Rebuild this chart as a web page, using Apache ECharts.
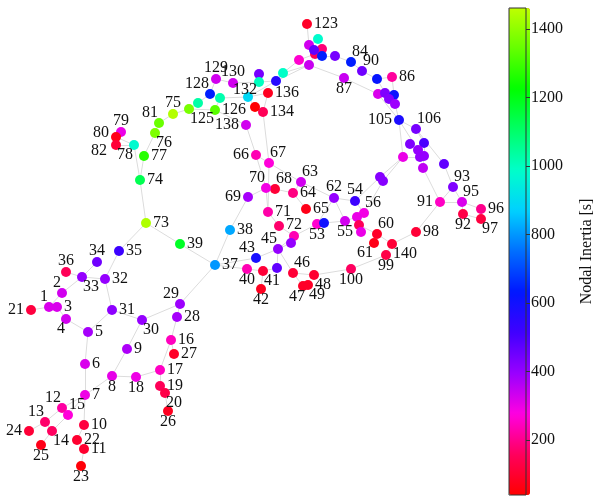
<!DOCTYPE html>
<html>
<head>
<meta charset="utf-8">
<script src="https://cdn.jsdelivr.net/npm/echarts@6/dist/echarts.min.js"></script>
<style>
  html, body { margin: 0; padding: 0; background: #fff; }
  #chart { width: 596px; height: 500px; }
</style>
</head>
<body>
<div id="chart"></div>
<script>
// node names ("u.." = unlabeled bus), layout position and nodal inertia [s]
const nodeNames = [
  '1','2','3','4','5','6','7','8','9','10',
  '11','12','13','14','15','16','17','18','19','20',
  '21','22','23','24','25','26','27','28','29','30',
  '31','32','33','34','35','36','37','38','39','40',
  '41','42','43','45','46','47','48','49','53','54',
  '55','56','60','61','62','63','64','65','66','67',
  '68','69','70','71','72','73','74','75','76','77',
  '78','79','80','81','82','84','86','87','90','91',
  '92','93','95','96','97','98','99','100','105','106',
  '123','125','126','128','129','130','132','134','136','138',
  '140',
  'u1','u2','u3','u4','u5','u6','u7','u8','u9','u10',
  'u11','u12','u13','u14','u15','u16','u17','u18','u19','u20',
  'u21','u22','u23','u24','u25','u26','u27','u28','u29','u30',
  'u31','u32','u33','u34','u35','u36','u37','u38','u39'
];
const posX = [
  49,62,57,66,88,85,85,112,127,84,
  84,62,45,52,68,171,160,136,160,165,
  31,77,81,29,41,168,174,177,180,142,
  112,105,82,97,119,66,215,230,180,247,
  263,261,256,278,293,303,314,308,317,355,
  345,364,377,374,334,301,293,306,256,269,
  275,248,266,268,294,146,140,173,155,144,
  134,121,116,159,116,351,392,344,362,440,
  463,453,462,481,481,416,386,351,399,416,
  307,189,215,210,216,233,248,263,268,246,
  392,
  198,220,259,259,276,283,255,318,309,315,
  322,322,314,335,299,309,377,378,385,394,
  389,395,410,424,418,420,424,403,423,444,
  380,383,279,291,324,357,359,361,277
];
const posY = [
  307,293,307,319,332,364,395,376,349,425,
  449,408,422,431,415,340,370,377,386,393,
  310,440,466,431,445,411,354,317,304,320,
  310,279,277,262,251,272,265,230,244,269,
  271,289,258,249,273,286,275,285,224,201,
  221,213,234,243,198,182,193,209,155,163,
  189,197,188,212,236,223,180,114,133,156,
  145,132,137,123,145,62,77,78,71,202,
  214,187,202,209,219,232,255,269,120,129,
  24,109,110,94,79,83,97,112,93,125,
  244,
  103,98,74,82,81,73,107,39,45,54,
  49,56,50,56,60,65,79,94,93,95,
  99,104,144,143,150,157,156,157,168,164,
  177,181,226,243,223,217,225,232,268
];
const inertia = [
  320,330,320,330,380,320,295,305,370,120,
  100,220,170,160,270,245,250,295,150,130,
  120,100,50,110,70,80,90,380,390,400,
  410,400,400,450,520,150,800,820,1180,235,
  110,80,590,400,110,90,100,90,260,520,
  330,290,90,70,400,330,190,70,235,270,
  110,380,290,225,235,1440,1130,1445,1375,1270,
  975,300,70,1350,110,640,215,340,450,250,
  130,430,320,200,120,110,130,160,580,440,
  90,1370,1330,640,330,330,890,150,80,330,
  110,
  1030,1020,440,1000,560,990,20,980,330,150,
  180,640,470,440,260,340,620,320,430,610,
  420,390,430,500,400,400,400,300,350,470,
  420,420,170,400,600,300,150,300,470
];
const lines = [
  ['21','1'],['1','3'],['1','2'],['3','4'],['2','33'],['36','33'],['33','34'],['33','32'],
  ['32','35'],['35','73'],['32','31'],['31','5'],['4','5'],['5','6'],['6','7'],['7','8'],
  ['8','9'],['9','30'],['30','31'],['30','29'],['29','37'],['29','28'],['28','16'],['16','17'],
  ['17','18'],['18','8'],['17','19'],['19','20'],['20','26'],['16','27'],['7','12'],['7','15'],
  ['12','15'],['12','13'],['13','24'],['13','14'],['15','14'],['14','25'],['7','10'],['10','22'],
  ['22','11'],['11','23'],
  ['73','39'],['39','37'],['73','74'],['74','77'],['74','78'],['77','76'],['78','80'],['80','79'],
  ['80','82'],['78','82'],['76','81'],['81','75'],['75','125'],
  ['125','u1'],['u1','128'],['128','u2'],['u2','126'],['125','126'],['128','129'],['129','130'],
  ['130','u4'],['u4','u3'],['u4','u5'],['u5','u6'],['u2','132'],['132','u5'],['132','136'],
  ['132','u7'],['u7','134'],['136','134'],['134','67'],['126','138'],['138','66'],
  ['u6','u15'],['u6','u16'],['u5','u16'],['u15','u10'],['u16','u10'],['u10','u9'],['u9','123'],
  ['u9','u8'],['u10','u11'],['u11','u12'],['u12','u13'],['u12','u14'],['u14','84'],['84','90'],
  ['90','u17'],['u17','86'],['u17','u19'],['u16','87'],['87','u18'],['u18','u19'],['86','u20'],
  ['u19','u21'],['u20','u21'],['u21','u22'],['u22','105'],['u18','105'],
  ['105','106'],['105','u28'],['105','u25'],['106','u24'],['106','u30'],['u23','u25'],
  ['u24','u27'],['u25','u26'],['u26','u27'],['u27','u29'],['u28','u26'],['u28','u31'],
  ['u28','u32'],['u30','93'],['93','91'],['93','95'],['91','95'],['95','96'],['95','92'],
  ['92','97'],['96','97'],['u29','91'],['91','98'],['u31','54'],['u32','56'],
  ['66','67'],['66','70'],['67','71'],['67','63'],['70','71'],['69','70'],['69','38'],
  ['38','37'],['70','68'],['68','64'],['64','63'],['63','62'],['64','65'],['62','54'],
  ['54','56'],['62','55'],['53','u35'],['u35','55'],['55','u36'],['u36','56'],['u36','u37'],
  ['u37','u38'],['u37','60'],['60','61'],['60','140'],['140','99'],['140','98'],['99','100'],
  ['100','48'],['48','46'],['46','47'],['47','49'],['46','45'],['45','43'],['43','37'],
  ['37','40'],['40','41'],['41','42'],['45','u39'],['u39','41'],['45','72'],['72','u33'],
  ['u33','71'],['72','53'],['u34','45'],['u34','72'],['53','62']
];
const cbTicks = [200, 400, 600, 800, 1000, 1200, 1400];
const vMin = 39.4, vMax = 1461;

// label side per node (default: right)
const labelSide = {
  '36':'t','2':'tl','33':'br','1':'tl','21':'l','4':'bl','30':'br','29':'tl','8':'b','18':'b',
  '20':'br','26':'b','12':'tl','15':'tr','13':'tl','24':'l','14':'br','25':'b','23':'b','34':'t',
  '78':'bl','79':'t','80':'lu','82':'ld','76':'br','81':'tl','75':'t','125':'br','128':'tl',
  '129':'t','130':'t','132':'tn','138':'l','66':'l','67':'tr','70':'tl','68':'tr','63':'tr',
  '62':'t','54':'t','56':'tr','69':'l','72':'t','53':'b','55':'b','60':'tr','61':'bl',
  '140':'br','99':'b','100':'b','43':'tl','45':'tl','40':'b','41':'br','42':'b','46':'tr',
  '48':'br','47':'bw','49':'br','84':'tr','90':'tr','87':'b','105':'l','106':'tr','93':'tr',
  '91':'l','95':'tr','92':'b','97':'br'
};

function labelFor(name) {
  const s = labelSide[name];
  const w = name.length * 4 + 1;
  if (!s) return {};
  if (s === 't') return { position: 'top', offset: [0, 4] };
  if (s === 'tn') return { position: 'top', offset: [-3, 8] };
  if (s === 'b') return { position: 'bottom', offset: [0, -4] };
  if (s === 'bw') return { position: 'bottom', offset: [-6, -4] };
  if (s === 'l') return { position: 'left' };
  if (s === 'lu') return { position: 'left', offset: [0, -4] };
  if (s === 'ld') return { position: 'left', offset: [-2, 6] };
  if (s === 'tl') return { position: 'top', offset: [-w, 5] };
  if (s === 'tr') return { position: 'top', offset: [w, 5] };
  if (s === 'bl') return { position: 'bottom', offset: [-w, -5] };
  if (s === 'br') return { position: 'bottom', offset: [w, -5] };
  return {};
}

const font = 'Liberation Serif';
const chart = echarts.init(document.getElementById('chart'));

const option = {
  animation: false,
  grid: [
    { left: 0, top: 0, width: 500, height: 500 },
    { left: 509, top: 8, width: 21, height: 487, show: true, borderColor: '#333',
      borderWidth: 1, backgroundColor: 'transparent', z: 10 }
  ],
  xAxis: [
    { gridIndex: 0, type: 'value', min: 0, max: 500, show: false },
    { gridIndex: 1, type: 'category', data: [''], show: false }
  ],
  yAxis: [
    { gridIndex: 0, type: 'value', min: 0, max: 500, inverse: true, show: false },
    {
      gridIndex: 1, type: 'value', min: vMin, max: vMax, position: 'right', z: 10,
      axisLine: { show: false },
      splitLine: { show: false },
      axisTick: { show: true, customValues: cbTicks, length: 4, lineStyle: { color: '#333' } },
      axisLabel: { customValues: cbTicks, fontSize: 16, fontFamily: font, color: '#111', margin: 5,
        formatter: v => String(v) },
      name: 'Nodal Inertia [s]', nameLocation: 'middle', nameRotate: 90, nameGap: 53,
      nameTextStyle: { fontSize: 16, fontFamily: font, color: '#111' }
    }
  ],
  visualMap: {
    type: 'continuous', min: vMin, max: vMax, dimension: 2, seriesIndex: 1,
    left: 509, top: 8, itemWidth: 21, itemHeight: 487, padding: 0,
    calculable: false, hoverLink: false, z: 1,
    inRange: { color: ['#ff0000', '#ff005d', '#ff00e1', '#9900ff', '#4000ff', '#0017ff',
      '#006eff', '#00d0ff', '#00ffca', '#00ff66', '#00ff00', '#64ff00', '#bfff00'] },
    outOfRange: { color: '#ff4a00' }
  },
  series: [
    {
      // edges
      type: 'graph',
      coordinateSystem: 'cartesian2d',
      xAxisIndex: 0, yAxisIndex: 0,
      symbolSize: 0,
      data: nodeNames.map((n, i) => ({ name: n, value: [posX[i], posY[i]] })),
      links: lines.map(l => ({ source: l[0], target: l[1] })),
      lineStyle: { color: '#dcdcdc', width: 1, opacity: 1, curveness: 0 },
      label: { show: false },
      emphasis: { disabled: true },
      silent: true
    },
    {
      // buses
      type: 'scatter',
      xAxisIndex: 0, yAxisIndex: 0,
      symbolSize: 10,
      data: nodeNames.map((n, i) => ({
        name: n, value: [posX[i], posY[i], inertia[i]], label: labelFor(n)
      })),
      itemStyle: { opacity: 1 },
      label: {
        show: true, position: 'right', distance: 2, fontSize: 16, fontFamily: font, color: '#111',
        formatter: p => (p.name[0] === 'u' ? '' : p.name)
      },
      emphasis: { disabled: true }
    }
  ]
};
chart.setOption(option);
</script>
</body>
</html>
